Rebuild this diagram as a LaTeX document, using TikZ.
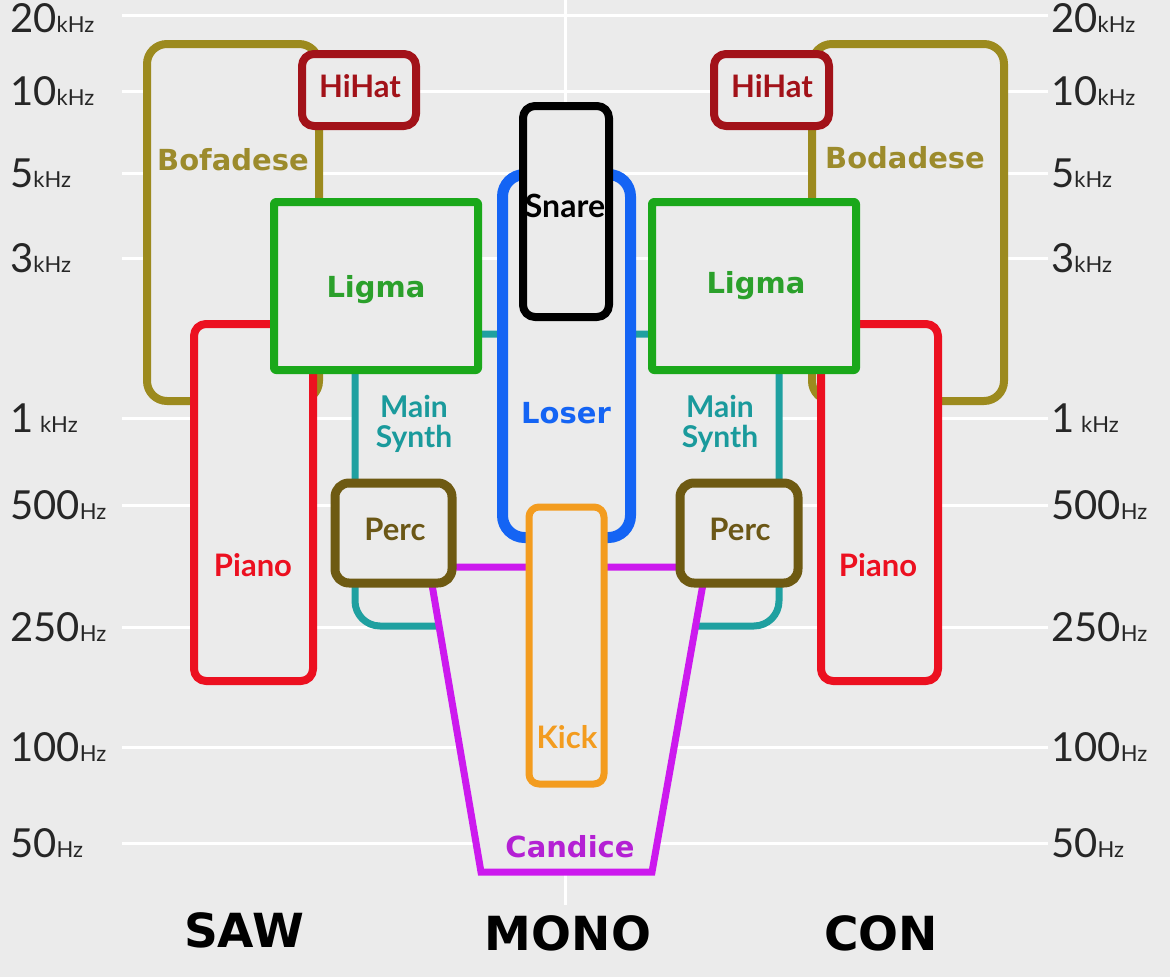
\documentclass[tikz,border=0pt]{standalone}
\usepackage{fontspec}
\setmainfont{Lato}
\newfontfamily\axisfont{Lato}
\newfontfamily\djv{DejaVu Sans}
\usetikzlibrary{shadows}
\definecolor{bg}{HTML}{EBEBEB}
\definecolor{colive}{HTML}{9C8A1E}
\definecolor{tolive}{HTML}{9C8B2C}
\definecolor{cdred}{HTML}{A21219}
\definecolor{cgreen}{HTML}{1AA81A}
\definecolor{tgreen}{HTML}{2BA02B}
\definecolor{cred}{HTML}{EC1020}
\definecolor{cteal}{HTML}{1FA0A0}
\definecolor{tteal}{HTML}{1A9A9C}
\definecolor{cbrown}{HTML}{6E5A12}
\definecolor{tbrown}{HTML}{6B5716}
\definecolor{cblue}{HTML}{1464F4}
\definecolor{corange}{HTML}{F39C1F}
\definecolor{cmag}{HTML}{CC19EE}
\definecolor{tmag}{HTML}{B420D4}
\newcommand{\unitk}{{\fontsize{22}{22}\selectfont kHz}}
\newcommand{\unith}{{\fontsize{22}{22}\selectfont Hz}}
\tikzset{
  grid line/.style={draw=white, line width=3pt},
  axl/.style={inner sep=0pt, anchor=base west, text=black!85, font=\axisfont\fontsize{40}{40}\selectfont},
  box/.style={fill=bg, line width=8pt, line join=round,
    drop shadow={shadow xshift=1.5pt, shadow yshift=-1.5pt, opacity=0.3, fill=black}},
  dj/.style={inner sep=0pt, anchor=base, font=\djv\bfseries\fontsize{29}{33}\selectfont},
  lt/.style={inner sep=0pt, anchor=base, font=\bfseries\fontsize{31}{31}\selectfont},
  ms/.style={inner sep=0pt, align=center, text=tteal, font=\bfseries\fontsize{30}{30}\selectfont},
  bottom/.style={inner sep=0pt, anchor=base, font=\djv\bfseries\fontsize{47}{47}\selectfont}
}
\begin{document}
\begin{tikzpicture}[x=1pt,y=-1pt]
\fill[bg] (0,0) rectangle (1170,977);
\useasboundingbox (0,0) rectangle (1170,977);
% grid
\foreach \yy in {15,91,173,258,418,505,627,747,843}
  \draw[grid line] (122,\yy) -- (1048,\yy);
\draw[grid line] (565,0) -- (565,905);
% axis labels
\foreach \side/\xx in {L/10,R/1051}{
  \node[axl] (a20\side) at (\xx,32) {20\unitk};
  \node[axl] (a10k\side) at (\xx,105) {10\unitk};
  \node[axl] (a5k\side) at (\xx,187) {5\unitk};
  \node[axl] (a3k\side) at (\xx,272) {3\unitk};
  \node[axl] (a1k\side) at (\xx,432) {1\,\unitk};
  \node[axl] (a500\side) at (\xx,519) {500\unith};
  \node[axl] (a250\side) at (\xx,641) {250\unith};
  \node[axl] (a100\side) at (\xx,761) {100\unith};
  \node[axl] (a50\side) at (\xx,857) {50\unith};
}
% Bofadese / Bodadese
\draw[box, draw=colive, rounded corners=20pt] (147,44) rectangle (319,401);
\draw[box, draw=colive, rounded corners=20pt] (812,44) rectangle (1004,401);
% HiHat
\draw[box, draw=cdred, rounded corners=12pt] (302,54) rectangle (416,126);
\draw[box, draw=cdred, rounded corners=12pt] (714,54) rectangle (829,126);
% Piano
\draw[box, draw=cred, rounded corners=12pt] (194,324) rectangle (313,681);
\draw[box, draw=cred, rounded corners=12pt] (821,324) rectangle (938,681);
% Main Synth
\draw[box, draw=cteal, line width=7pt, rounded corners=25pt] (355,334) rectangle (540,626);
\draw[box, draw=cteal, line width=7pt, rounded corners=25pt] (590,334) rectangle (779,626);
% Ligma
\draw[box, draw=cgreen, rounded corners=2pt] (274,202) rectangle (478,370);
\draw[box, draw=cgreen, rounded corners=2pt] (652,202) rectangle (856,370);
% Candice
\draw[box, draw=cmag, line width=7pt, line join=miter] (429,567) -- (481,872) -- (652,872) -- (706,567) -- cycle;
% Perc
\draw[box, draw=cbrown, line width=9pt, rounded corners=14pt] (335,483) rectangle (452,583);
\draw[box, draw=cbrown, line width=9pt, rounded corners=14pt] (680,483) rectangle (798,583);
% Loser
\draw[box, draw=cblue, line width=11pt, rounded corners=22pt] (502.5,174.5) rectangle (630.5,537.5);
% Snare
\draw[box, draw=black, rounded corners=12pt] (523,106) rectangle (609,317);
% Kick
\draw[box, draw=corange, line width=7pt, rounded corners=10pt] (529,507) rectangle (604,784);
% labels
\node[dj, text=tolive] (tbof) at (233,170) {Bofadese};
\node[dj, text=tolive] (tbod) at (905,168) {Bodadese};
\node[lt, text=cdred] (thhL) at (360,97) {HiHat};
\node[lt, text=cdred] (thhR) at (772,97) {HiHat};
\node[dj, text=tgreen] (tligL) at (376,297) {Ligma};
\node[dj, text=tgreen] (tligR) at (756,293) {Ligma};
\node[lt, text=cred] (tpiaL) at (253,576) {Piano};
\node[lt, text=cred] (tpiaR) at (878,576) {Piano};
\node[lt, text=black, font=\bfseries\fontsize{32}{32}\selectfont] (tsnare) at (565,217) {Snare};
\node[dj, text=cblue] (tloser) at (566,423) {Loser};
\node[ms] (tmsL) at (414,424) {Main\\Synth};
\node[ms] (tmsR) at (720,424) {Main\\Synth};
\node[lt, text=tbrown] (tpercL) at (395,540) {Perc};
\node[lt, text=tbrown] (tpercR) at (740,540) {Perc};
\node[lt, text=corange] (tkick) at (567,748) {Kick};
\node[dj, text=tmag] (tcand) at (570,857) {Candice};
% bottom
\node[bottom] (saw) at (244,947) {SAW};
\node[bottom] (mono) at (568,950) {MONO};
\node[bottom] (con) at (881,950) {CON};
\end{tikzpicture}
\end{document}
